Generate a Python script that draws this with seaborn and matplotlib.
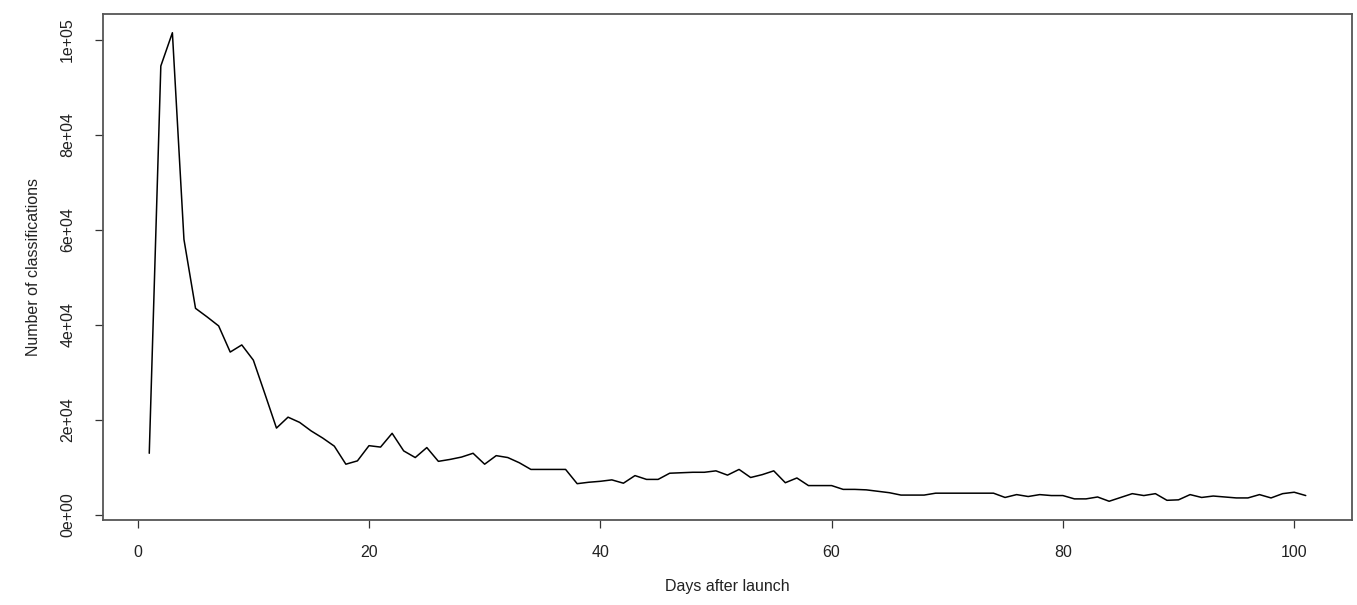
import matplotlib
matplotlib.use("Agg")
import matplotlib.pyplot as plt
import seaborn as sns
import numpy as np
import pandas as pd

days = list(range(1, 102))
classifications = [
    13000, 94500, 101500, 58000, 43500, 41700, 39800, 34300, 35800, 32600,
    25500, 18300, 20600, 19500, 17700, 16200, 14500, 10700, 11400, 14600,
    14300, 17200, 13500, 12100, 14200, 11300, 11700, 12200, 13000, 10700,
    12500, 12100, 11000, 9600, 9600, 9600, 9600, 6600, 6900, 7100,
    7400, 6700, 8300, 7500, 7500, 8800, 8900, 9000, 9000, 9300,
    8400, 9600, 7900, 8500, 9300, 6800, 7800, 6200, 6200, 6200,
    5400, 5400, 5300, 5000, 4700, 4200, 4200, 4200, 4600, 4600,
    4600, 4600, 4600, 4600, 3700, 4300, 3900, 4300, 4100, 4100,
    3400, 3400, 3800, 2900, 3700, 4500, 4100, 4500, 3100, 3200,
    4300, 3700, 4000, 3800, 3600, 3600, 4300, 3600, 4500, 4800,
    4100,
]
x_ticks = [0, 20, 40, 60, 80, 100]
y_ticks = [0, 20000, 40000, 60000, 80000, 100000]
y_tick_labels = ["0e+00", "2e+04", "4e+04", "6e+04", "8e+04", "1e+05"]
x_label = "Days after launch"
y_label = "Number of classifications"

df = pd.DataFrame({"day": days, "n": classifications})

sns.set_style("white")
plt.rcParams["font.family"] = ["Liberation Sans Narrow", "Liberation Sans", "DejaVu Sans"]

fig = plt.figure(figsize=(13.57, 6.05), dpi=100)
ax = fig.add_axes([103 / 1357, 1 - 520 / 605, (1352 - 103) / 1357, (520 - 14) / 605])

sns.lineplot(data=df, x="day", y="n", ax=ax, color="black", linewidth=1.1)

# R-style 4% axis extension
xr = max(days) - min(days)
ax.set_xlim(min(days) - 0.04 * xr, max(days) + 0.04 * xr)
yr = max(classifications) - min(classifications)
ax.set_ylim(min(classifications) - 0.04 * yr, max(classifications) + 0.04 * yr)

ax.set_xticks(x_ticks)
ax.set_xticklabels([str(t) for t in x_ticks])
ax.set_yticks(y_ticks)
ax.set_yticklabels(y_tick_labels, rotation=90, va="center")

ax.tick_params(axis="both", direction="out", length=6, width=0.9, color="#333333",
               labelsize=11.5, labelcolor="#222222")
ax.tick_params(axis="x", pad=12)
ax.tick_params(axis="y", pad=14)
ax.tick_params(bottom=True, left=True)

for s in ax.spines.values():
    s.set_visible(True)
    s.set_color("#555555")
    s.set_linewidth(1.3)

ax.set_xlabel(x_label, fontsize=11.5, color="#222222", labelpad=14)
ax.set_ylabel(y_label, fontsize=11.5, color="#222222", labelpad=14)
ax.grid(False)

fig.savefig("out.png", dpi=100, facecolor="white")
